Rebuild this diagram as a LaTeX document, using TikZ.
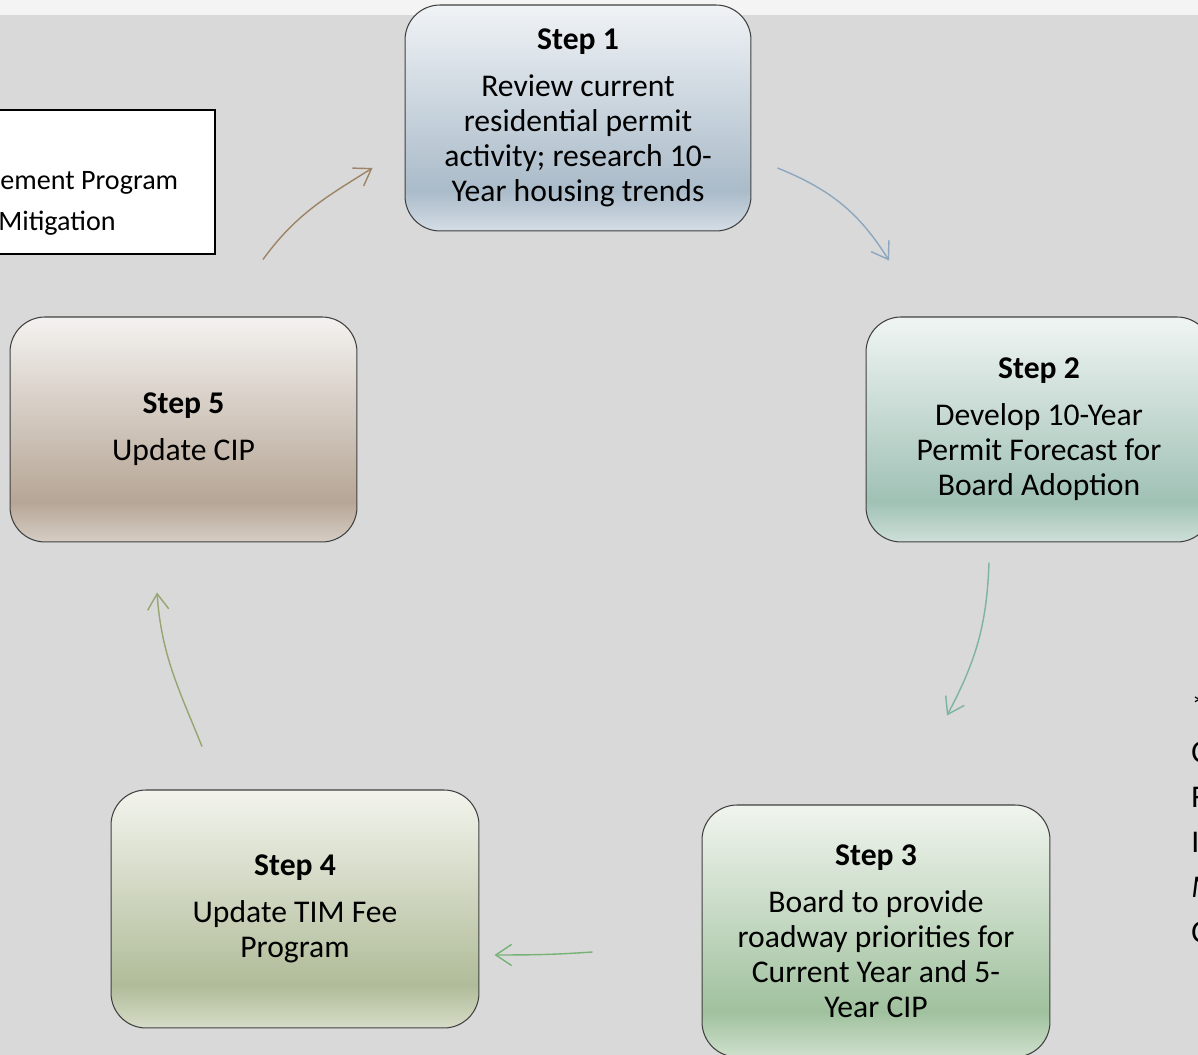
\documentclass[tikz,border=0pt]{standalone}
\usepackage{fontspec}
\setmainfont{Carlito}
\usepackage{tikz}
\usetikzlibrary{arrows.meta,positioning}
\usepackage{xcolor}
\definecolor{cybg}{RGB}{217,217,217}
\definecolor{cytop}{RGB}{244,244,244}
\definecolor{cyedge}{RGB}{64,64,64}
\definecolor{cybluetop}{RGB}{240,243,246}
\definecolor{cybluedeep}{RGB}{170,187,201}
\definecolor{cybluelow}{RGB}{212,221,230}
\definecolor{cyteal}{RGB}{240,245,243}
\definecolor{cytealdeep}{RGB}{160,193,181}
\definecolor{cyteallow}{RGB}{206,224,217}
\definecolor{cygreen}{RGB}{241,245,239}
\definecolor{cygreendeep}{RGB}{160,193,158}
\definecolor{cygreenlow}{RGB}{206,224,204}
\definecolor{cyolive}{RGB}{243,244,237}
\definecolor{cyolivedeep}{RGB}{176,188,153}
\definecolor{cyolivelow}{RGB}{214,220,200}
\definecolor{cytaupe}{RGB}{244,242,240}
\definecolor{cytaupedeep}{RGB}{182,166,150}
\definecolor{cytaupelow}{RGB}{214,205,196}
\definecolor{cyarrowA}{RGB}{140,167,190}
\definecolor{cyarrowB}{RGB}{125,180,160}
\definecolor{cyarrowC}{RGB}{118,178,118}
\definecolor{cyarrowD}{RGB}{150,166,112}
\definecolor{cyarrowE}{RGB}{158,132,102}
\pgfdeclareverticalshading{bluefade}{100bp}{color(0bp)=(cybluelow); color(25bp)=(cybluelow); color(34bp)=(cybluedeep); color(75bp)=(cybluetop); color(100bp)=(cybluetop)}
\pgfdeclareverticalshading{tealfade}{100bp}{color(0bp)=(cyteallow); color(25bp)=(cyteallow); color(34bp)=(cytealdeep); color(75bp)=(cyteal); color(100bp)=(cyteal)}
\pgfdeclareverticalshading{greenfade}{100bp}{color(0bp)=(cygreenlow); color(25bp)=(cygreenlow); color(34bp)=(cygreendeep); color(75bp)=(cygreen); color(100bp)=(cygreen)}
\pgfdeclareverticalshading{olivefade}{100bp}{color(0bp)=(cyolivelow); color(25bp)=(cyolivelow); color(34bp)=(cyolivedeep); color(75bp)=(cyolive); color(100bp)=(cyolive)}
\pgfdeclareverticalshading{taupefade}{100bp}{color(0bp)=(cytaupelow); color(25bp)=(cytaupelow); color(34bp)=(cytaupedeep); color(75bp)=(cytaupe); color(100bp)=(cytaupe)}
\newcommand{\boxfont}{\fontsize{18}{19.9}\selectfont}
\newcommand{\notefont}{\fontsize{16}{19.9}\selectfont}
\newcommand{\keyfont}{\fontsize{18}{22}\selectfont}
\tikzstyle{arrow} = [line width=0.8pt,-{Straight Barb[length=9pt,width=12pt]}]
\tikzstyle{stepbox} = [rectangle, rounded corners=0.7cm, draw=cyedge, line width=0.6pt, shade, align=center, font=\boxfont]

\begin{document}
\begin{tikzpicture}[x=0.02cm, y=0.02cm]
    % Frame
    \clip (0,0) rectangle (1198,1055);
    \fill[cybg] (0,0) rectangle (1198,1040);
    \fill[cytop] (0,1040) rectangle (1198,1055);

    % Note box, cut by the left edge
    \node[rectangle, draw=black, fill=white, line width=1pt, minimum width=4.5cm, minimum height=2.88cm] (note) at (102.5,873) {};
    \node[anchor=base west, inner sep=0pt, font=\notefont] (noteA) at (0,865) {ement Program};
    \node[anchor=base west, inner sep=0pt, font=\notefont] (noteB) at (-2,824) {Mitigation};

    % Steps
    \node[stepbox, shading=bluefade, minimum width=6.92cm, minimum height=4.52cm] (s1) at (578,937)
        {\textbf{Step 1}\\[7pt] Review current\\ residential permit\\ activity; research 10-\\ Year housing trends};
    \node[stepbox, shading=tealfade, minimum width=6.92cm, minimum height=4.5cm] (s2) at (1039,625.5)
        {\textbf{Step 2}\\[7pt] Develop 10-Year\\ Permit Forecast for\\ Board Adoption};
    \node[stepbox, shading=greenfade, minimum width=6.96cm, minimum height=5.04cm] (s3) at (876,124)
        {\textbf{Step 3}\\[7pt] Board to provide\\ roadway priorities for\\ Current Year and 5-\\ Year CIP};
    \node[stepbox, shading=olivefade, minimum width=7.36cm, minimum height=4.76cm] (s4) at (295,146)
        {\textbf{Step 4}\\[7pt] Update TIM Fee\\ Program};
    \node[stepbox, shading=taupefade, minimum width=6.94cm, minimum height=4.5cm] (s5) at (183.5,625.5)
        {\textbf{Step 5}\\[7pt] Update CIP};

    % Arrow ends
    \coordinate (a1) at ([xshift=0.52cm, yshift=-1cm]s1.east);
    \coordinate (b1) at ([xshift=-3cm, yshift=1.12cm]s2.north);
    \coordinate (a2) at ([xshift=-1cm, yshift=-0.4cm]s2.south);
    \coordinate (b2) at ([xshift=1.42cm, yshift=1.78cm]s3.north);
    \coordinate (a3) at ([xshift=-2.18cm, yshift=-0.42cm]s3.west);
    \coordinate (b3) at ([xshift=0.3cm, yshift=-0.92cm]s4.east);
    \coordinate (a4) at ([xshift=-1.86cm, yshift=0.86cm]s4.north);
    \coordinate (b4) at ([xshift=-0.53cm, yshift=-1cm]s5.south);
    \coordinate (a5) at ([xshift=1.59cm, yshift=1.14cm]s5.north);
    \coordinate (b5) at ([xshift=-0.64cm, yshift=-1cm]s1.west);

    % Arrows
    \draw[arrow, color=cyarrowA] (a1) to[out=-22, in=122] (b1);
    \draw[arrow, color=cyarrowB] (a2) to[out=-92, in=62] (b2);
    \draw[arrow, color=cyarrowC] (a3) to[out=184, in=0] (b3);
    \draw[arrow, color=cyarrowD] (a4) to[out=112, in=-86] (b4);
    \draw[arrow, color=cyarrowE] (a5) to[out=54, in=-148] (b5);

    % Key letters, cut by the right edge
    \foreach \ch [count=\i] in {*,C,F,I,\textit{M},C}
        \node[anchor=base west, inner sep=0pt, font=\keyfont] (key\i) at (1191,{337-45*(\i-1)}) {\ch};
\end{tikzpicture}
\end{document}
